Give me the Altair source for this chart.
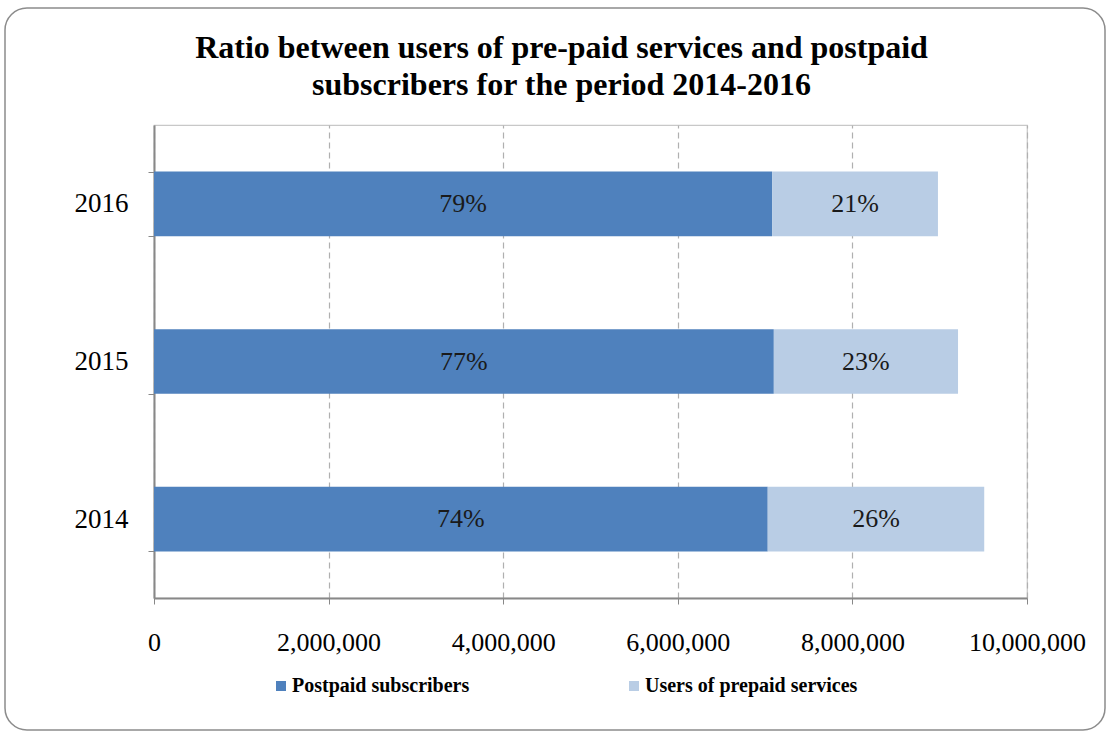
import altair as alt
import pandas as pd

years = ["2016", "2015", "2014"]
postpaid = [7080000, 7100000, 7030000]
prepaid = [1900000, 2110000, 2480000]
post_pct = ["79%", "77%", "74%"]
pre_pct = ["21%", "23%", "26%"]
series = ["Postpaid subscribers", "Users of prepaid services"]
colors = ["#4F81BD", "#B9CDE5"]

rows = []
for i, y in enumerate(years):
    rows.append({"year": y, "series": series[0], "start": 0, "end": postpaid[i],
                 "label": post_pct[i], "order": 0})
    rows.append({"year": y, "series": series[1], "start": postpaid[i],
                 "end": postpaid[i] + prepaid[i], "label": pre_pct[i], "order": 1})
df = pd.DataFrame(rows)
df["mid"] = (df["start"] + df["end"]) / 2

FONT = "Liberation Serif"

yscale = alt.Scale(domain=years, paddingInner=0.59, paddingOuter=0.295)
xscale = alt.Scale(domain=[0, 10000000], nice=False)

bars = alt.Chart(df).mark_bar().encode(
    y=alt.Y("year:N", scale=yscale, title=None, sort=years,
            axis=alt.Axis(tickBand="extent", labelFontSize=27, labelFont=FONT,
                          labelColor="#000000", labelPadding=20, domainColor="#888888",
                          domainWidth=2, tickColor="#888888", tickSize=6, ticks=True,
                          grid=False)),
    x=alt.X("start:Q", scale=xscale, title=None,
            axis=alt.Axis(values=[0, 2000000, 4000000, 6000000, 8000000, 10000000],
                          format=",d", labelFontSize=26, labelFont=FONT,
                          labelColor="#000000", labelPadding=25, labelFlush=False,
                          labelOverlap=False,
                          domainColor="#888888", domainWidth=2, tickColor="#888888",
                          tickSize=6, grid=True, gridDash=[6, 4], gridColor="#b0b0b0",
                          gridWidth=1.2)),
    x2="end:Q",
    color=alt.Color("series:N", scale=alt.Scale(domain=series, range=colors),
                    legend=alt.Legend(title=None, orient="none", legendX=117, legendY=551,
                                      direction="horizontal", symbolType="square",
                                      symbolSize=100, symbolStrokeWidth=0,
                                      labelFont=FONT, labelFontSize=20,
                                      labelFontWeight="bold", labelColor="#000000",
                                      labelLimit=0, columnPadding=154, labelOffset=1)),
    order="order:Q",
)

texts = alt.Chart(df).mark_text(font=FONT, fontSize=26, color="#1a1a1a").encode(
    y=alt.Y("year:N", scale=yscale, sort=years),
    x=alt.X("mid:Q", scale=xscale),
    text="label:N",
)

frame = alt.Chart(pd.DataFrame({"a": [0]})).mark_rect(
    fill=None, stroke="#8c8c8c", strokeWidth=1.5, cornerRadius=22, clip=False
).encode(
    x=alt.value(-149), x2=alt.value(951), y=alt.value(-117), y2=alt.value(605)
)

chart = alt.layer(frame, bars, texts).properties(
    width=873, height=473,
    title=alt.TitleParams(
        text=["Ratio between users of pre-paid services and postpaid",
              "subscribers for the period 2014-2016"],
        font=FONT, fontSize=32, fontWeight="bold", color="#000000",
        anchor="middle", dx=-29, lineHeight=37, offset=-95),
    autosize=alt.AutoSizeParams(type="none"),
    padding={"left": 154, "top": 125, "right": 82, "bottom": 136},
).configure_view(stroke="#c8c8c8", strokeWidth=1.2)

chart.save("out.html", embed_options={"renderer": "svg", "actions": False})
